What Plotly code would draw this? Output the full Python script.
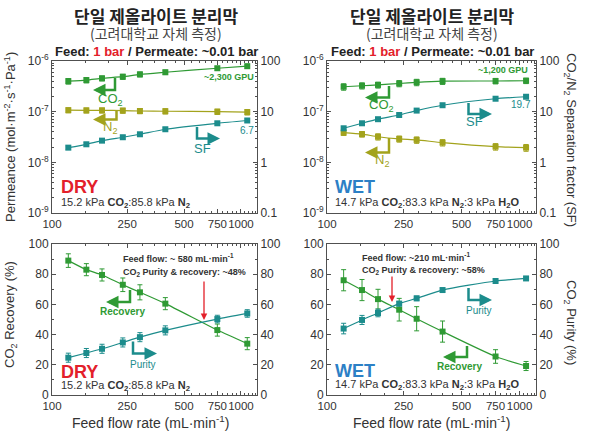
import plotly.graph_objects as go

# ---------------- data ----------------
flow = [122, 152, 184, 237, 292, 398, 750, 1080]

dry_co2 = [4.0e-7, 4.2e-7, 4.55e-7, 4.9e-7, 5.45e-7, 6.0e-7, 7.2e-7, 7.9e-7]
dry_co2_err = [0.5e-7, 0.5e-7, 0.5e-7, 0.55e-7, 0.6e-7, 0.6e-7, 0.6e-7, 0.7e-7]
dry_n2 = [1.07e-7, 1.06e-7, 1.06e-7, 1.05e-7, 1.03e-7, 1.02e-7, 1.0e-7, 0.98e-7]
dry_n2_err = [0.12e-7] * 8
dry_sf = [1.95, 2.27, 2.68, 3.13, 3.58, 4.5, 5.9, 6.7]
dry_sf_err = [0.15, 0.2, 0.2, 0.25, 0.3, 0.3, 0.4, 0.5]

wet_co2 = [3.1e-7, 3.25e-7, 3.37e-7, 3.6e-7, 3.8e-7, 4.0e-7, 4.03e-7, 4.08e-7]
wet_co2_err = [0.45e-7, 0.45e-7, 0.45e-7, 0.5e-7, 0.55e-7, 0.55e-7, 0.5e-7, 0.5e-7]
wet_n2 = [3.85e-8, 3.6e-8, 3.2e-8, 2.9e-8, 2.77e-8, 2.45e-8, 2.04e-8, 1.95e-8]
wet_n2_err = [0.45e-8, 0.45e-8, 0.45e-8, 0.4e-8, 0.4e-8, 0.35e-8, 0.3e-8, 0.3e-8]
wet_sf = [4.7, 5.9, 7.1, 8.6, 10.5, 13.4, 18.0, 19.7]
wet_sf_err = [0.4, 0.4, 0.4, 0.4, 0.4, 0.4, 0.5, 0.5]

dry_rec = [89, 83, 79.5, 73, 68, 60.5, 43, 34]
dry_rec_err = [4.5, 4, 4, 4.5, 5, 4, 4, 4]
dry_pur = [24.7, 27.8, 30.6, 34.8, 38.3, 42.8, 50.3, 54]
dry_pur_err = [3, 3, 3, 3, 3, 3, 2.5, 2.5]

wet_rec = [76, 69.5, 63.5, 56.5, 50.5, 42, 25.5, 19.2]
wet_rec_err = [7, 7, 6.5, 7.5, 8, 7, 4.5, 3]
wet_pur = [44, 49.7, 54.3, 60.5, 64, 69.5, 75.5, 77.2]
wet_pur_err = [3.5, 3, 2.5, 1.5, 1.5, 1.2, 1, 1]

x_ticks = [100, 250, 500, 750, 1000]
perm_ticks = [1e-9, 1e-8, 1e-7, 1e-6]
perm_ticktext = ["10<sup>-9</sup>", "10<sup>-8</sup>", "10<sup>-7</sup>", "10<sup>-6</sup>"]
sf_ticks = [0.1, 1, 10, 100]
sf_ticktext = ["0.1", "1", "10", "100"]

# ---------------- styling ----------------
GREEN = "#2f9a34"
TEAL = "#1c8c8c"
OLIVE = "#a3a31c"
RED = "#e3202a"
BLUE = "#2c80c6"
AX = "#505050"
TXT = "#333333"
FONT = "Arial, Liberation Sans, Noto Sans CJK KR, sans-serif"
KFONT = "Noto Sans CJK KR, sans-serif"

W, H = 589, 441
def px(x):
    return x / W
def py(y):
    return 1 - y / H

XL = [px(52), px(257)]
XR = [px(327), px(536)]
YT = [py(213), py(61)]
YB = [py(395), py(244)]

fig = go.Figure()

def series(x, y, err, color, xa, ya):
    fig.add_trace(go.Scatter(
        x=x, y=y, mode="lines+markers",
        line=dict(color=color, width=1.2, shape="spline", smoothing=0.6),
        marker=dict(symbol="square", size=6, color=color),
        error_y=dict(type="data", array=err, color=color, thickness=1, width=2.5),
        xaxis=xa, yaxis=ya, showlegend=False, hoverinfo="skip"))

series(flow, dry_co2, dry_co2_err, GREEN, "x", "y")
series(flow, dry_n2, dry_n2_err, OLIVE, "x", "y")
series(flow, dry_sf, dry_sf_err, TEAL, "x", "y2")
series(flow, wet_co2, wet_co2_err, GREEN, "x2", "y3")
series(flow, wet_n2, wet_n2_err, OLIVE, "x2", "y3")
series(flow, wet_sf, wet_sf_err, TEAL, "x2", "y4")
series(flow, dry_rec, dry_rec_err, GREEN, "x3", "y5")
series(flow, dry_pur, dry_pur_err, TEAL, "x3", "y6")
series(flow, wet_rec, wet_rec_err, GREEN, "x4", "y7")
series(flow, wet_pur, wet_pur_err, TEAL, "x4", "y8")

tickfont = dict(family=FONT, size=12, color=TXT)
xtickfont = dict(family=FONT, size=11.5, color=TXT)
x_minor = [v for v in range(100, 1250, 50)]
log_minor = [m * 10.0 ** e for e in range(-10, 3) for m in range(2, 10)]

def xaxis(domain, anchor):
    return dict(domain=domain, anchor=anchor, type="log", range=[2, 3.085],
                tickvals=x_ticks, ticktext=[str(v) for v in x_ticks], tickangle=0,
                automargin=False,
                ticks="inside", ticklen=4, tickcolor=AX, showline=True, linecolor=AX,
                linewidth=1, mirror="ticks", showgrid=False, zeroline=False,
                tickfont=xtickfont,
                minor=dict(tickvals=x_minor, ticks="inside", ticklen=2, tickcolor=AX))

def ylog(domain, anchor, ticks, text, rng, side="left", overlay=None):
    d = dict(anchor=anchor, type="log", range=rng, tickvals=ticks, ticktext=text,
             automargin=False,
             ticks="inside", ticklen=4, tickcolor=AX, showline=True, linecolor=AX,
             linewidth=1, showgrid=False, zeroline=False, side=side, tickfont=tickfont,
             minor=dict(tickvals=log_minor, ticks="inside", ticklen=2, tickcolor=AX))
    if overlay:
        d["overlaying"] = overlay
    else:
        d["domain"] = domain
    return d

def ylin(domain, anchor, side="left", overlay=None):
    d = dict(anchor=anchor, range=[0, 100], tickvals=[0, 20, 40, 60, 80, 100],
             automargin=False,
             ticks="inside", ticklen=4, tickcolor=AX, showline=True, linecolor=AX,
             linewidth=1, showgrid=False, zeroline=False, side=side, tickfont=tickfont,
             minor=dict(dtick=10, ticks="inside", ticklen=2, tickcolor=AX))
    if overlay:
        d["overlaying"] = overlay
    else:
        d["domain"] = domain
    return d

fig.update_layout(
    width=W, height=H, margin=dict(l=0, r=0, t=0, b=0, pad=0), autosize=False,
    paper_bgcolor="white", plot_bgcolor="white", showlegend=False,
    font=dict(family=FONT, color=TXT),
    xaxis=xaxis(XL, "y"), xaxis2=xaxis(XR, "y3"),
    xaxis3=xaxis(XL, "y5"), xaxis4=xaxis(XR, "y7"),
    yaxis=ylog(YT, "x", perm_ticks, perm_ticktext, [-9, -6]),
    yaxis2=ylog(YT, "x", sf_ticks, sf_ticktext, [-1, 2], side="right", overlay="y"),
    yaxis3=ylog(YT, "x2", perm_ticks, perm_ticktext, [-9, -6]),
    yaxis4=ylog(YT, "x2", sf_ticks, sf_ticktext, [-1, 2], side="right", overlay="y3"),
    yaxis5=ylin(YB, "x3"),
    yaxis6=ylin(YB, "x3", side="right", overlay="y5"),
    yaxis7=ylin(YB, "x4"),
    yaxis8=ylin(YB, "x4", side="right", overlay="y7"),
)

ann = []
shapes = []

def text(x, y, s, size=12, color=TXT, xanchor="center", angle=0, family=FONT):
    ann.append(dict(x=px(x), y=py(y), xref="paper", yref="paper", text=s, showarrow=False,
                    xanchor=xanchor, yanchor="middle", textangle=angle,
                    font=dict(size=size, color=color, family=family)))

def bent(xv, y1, y2, xh, color, w=2.5):
    shapes.append(dict(type="path", xref="paper", yref="paper",
                       path=f"M {px(xv)} {py(y1)} L {px(xv)} {py(y2)} L {px(xh + (6 if xh < xv else -6))} {py(y2)}",
                       line=dict(color=color, width=w)))
    ann.append(dict(x=px(xh), y=py(y2), xref="paper", yref="paper", text="", showarrow=True,
                    arrowhead=2, arrowsize=1, arrowwidth=w, arrowcolor=color,
                    ax=(10 if xh < xv else -10), ay=0))

def down_arrow(x, y1, y2, color):
    ann.append(dict(x=px(x), y=py(y2), xref="paper", yref="paper", text="", showarrow=True,
                    arrowhead=2, arrowsize=1, arrowwidth=1.3, arrowcolor=color,
                    ax=0, ay=-(y2 - y1)))

# headers
for cx in (156, 432):
    text(cx, 15, "<b>단일 제올라이트 분리막</b>", size=17, color="#222", family=KFONT)
    text(cx, 33, "(고려대학교 자체 측정)", size=14, color="#444", family=KFONT)
    text(cx, 51, f"<b>Feed: <span style='color:{RED}'>1 bar</span> / Permeate: ~0.01 bar</b>", size=13, color="#222")

# axis titles
text(10, 137, "Permeance (mol·m<sup>-2</sup>·s<sup>-1</sup>·Pa<sup>-1</sup>)", size=13, angle=-90)
text(571, 140, "CO<sub>2</sub>/N<sub>2</sub> Separation factor (SF)", size=13, angle=90)
text(10, 315, "CO<sub>2</sub> Recovery (%)", size=13, angle=-90)
text(571, 322, "CO<sub>2</sub> Purity (%)", size=13, angle=90)
text(150, 422, "Feed flow rate (mL·min<sup>-1</sup>)", size=14)
text(431, 422, "Feed flow rate (mL·min<sup>-1</sup>)", size=14)

# top-left (DRY permeance)
text(229, 77, "<b>~2,300 GPU</b>", size=9, color=GREEN)
text(247, 130, "6.7", size=10, color=TEAL)
bent(115, 78, 90, 93, GREEN)
text(110, 100, "CO<sub>2</sub>", size=13, color=GREEN)
bent(116.5, 111, 119.5, 93, OLIVE)
text(110, 128, "N<sub>2</sub>", size=13, color=OLIVE)
bent(197, 127, 138.5, 220, TEAL)
text(202, 148, "SF", size=13, color=TEAL)
text(59, 187, "<b>DRY</b>", size=18, color=RED, xanchor="left")
text(59, 203, "15.2 kPa <b>CO<sub>2</sub></b>:85.8 kPa <b>N<sub>2</sub></b>", size=11, xanchor="left")

# top-right (WET permeance)
text(503, 70, "<b>~1,200 GPU</b>", size=9, color=GREEN)
text(521, 104, "19.7", size=10, color=TEAL)
bent(389, 86, 97.5, 365, GREEN)
text(381, 106, "CO<sub>2</sub>", size=13, color=GREEN)
bent(468.5, 103, 114, 492, TEAL)
text(474, 122, "SF", size=13, color=TEAL)
bent(389, 138, 152.5, 365, OLIVE)
text(382, 160, "N<sub>2</sub>", size=13, color=OLIVE)
text(333, 187, "<b>WET</b>", size=18, color=BLUE, xanchor="left")
text(333, 203, "14.7 kPa <b>CO<sub>2</sub></b>:83.3 kPa <b>N<sub>2</sub></b>:3 kPa <b>H<sub>2</sub>O</b>", size=11, xanchor="left")

# bottom-left (DRY recovery/purity)
text(121, 258, "<b>Feed flow: ~ 580 mL·min<sup>-1</sup></b>", size=9, xanchor="left")
text(121, 272, "<b>CO<sub>2</sub> Purity &amp; recovery: ~48%</b>", size=9, xanchor="left")
down_arrow(204, 280, 320, RED)
bent(130, 290, 302, 106, GREEN)
text(122, 311, "<b>Recovery</b>", size=10, color=GREEN)
bent(133, 341.5, 353.5, 157, TEAL)
text(143, 364, "Purity", size=10, color=TEAL)
text(59, 372, "<b>DRY</b>", size=18, color=RED, xanchor="left")
text(59, 386, "15.2 kPa <b>CO<sub>2</sub></b>:85.8 kPa <b>N<sub>2</sub></b>", size=11, xanchor="left")

# bottom-right (WET recovery/purity)
text(360, 257, "<b>Feed flow: ~210 mL·min<sup>-1</sup></b>", size=9, xanchor="left")
text(360, 270, "<b>CO<sub>2</sub> Purity &amp; recovery: ~58%</b>", size=9, xanchor="left")
down_arrow(392, 275, 302, RED)
bent(468.5, 288, 300, 492, TEAL)
text(479, 310, "Purity", size=10, color=TEAL)
bent(467, 346, 357, 443, GREEN)
text(459, 366, "<b>Recovery</b>", size=10, color=GREEN)
text(333, 371, "<b>WET</b>", size=18, color=BLUE, xanchor="left")
text(333, 385, "14.7 kPa <b>CO<sub>2</sub></b>:83.3 kPa <b>N<sub>2</sub></b>:3 kPa <b>H<sub>2</sub>O</b>", size=11, xanchor="left")

fig.update_layout(annotations=ann, shapes=shapes)
fig.write_html("out.html", config={"displayModeBar": False},
               post_script="document.body.style.margin='0';")
